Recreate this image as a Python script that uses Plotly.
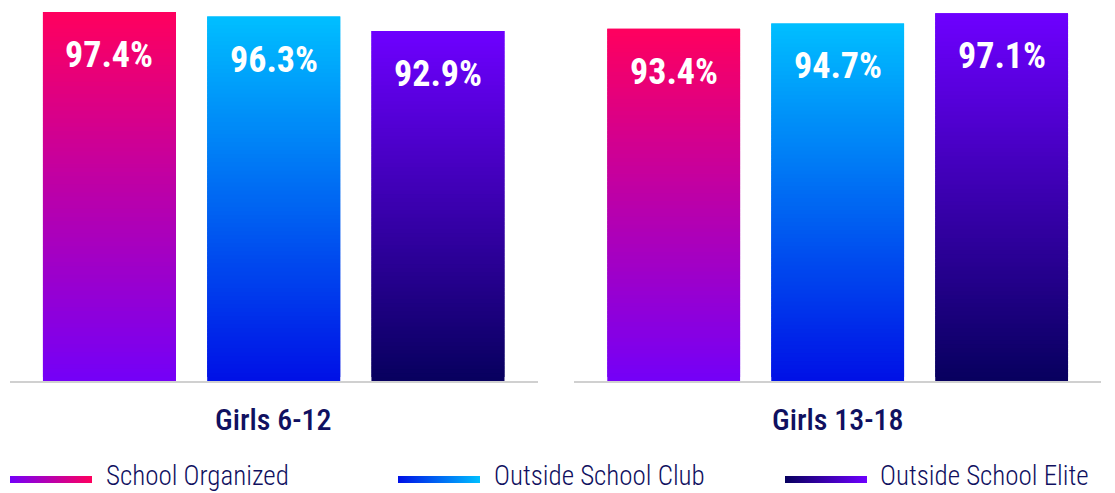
import base64
import plotly.graph_objects as go

# ---------------- data ----------------
groups = ["Girls 6-12", "Girls 13-18"]
series = ["School Organized", "Outside School Club", "Outside School Elite"]
values_girls_6_12 = [97.4, 96.3, 92.9]
values_girls_13_18 = [93.4, 94.7, 97.1]

# ---------------- style ----------------
top_colors = ["#FF005E", "#00BFFF", "#6E00FF"]
bottom_colors = ["#7400F8", "#0010E6", "#07005E"]
TEXT_NAVY = "#101060"
FONT = "'Roboto Condensed', 'Liberation Sans Narrow', 'DejaVu Sans Condensed', Roboto, sans-serif"
Y_MIN, Y_MAX = 10, 100
N_SEG = 90

W, H = 1115, 493
M_T, M_B = 1, 112
PLOT_H = H - M_T - M_B


def hex2rgb(h):
    h = h.lstrip("#")
    return tuple(int(h[i:i + 2], 16) for i in (0, 2, 4))


def lerp(c1, c2, t):
    a, b = hex2rgb(c1), hex2rgb(c2)
    return "rgb({},{},{})".format(*[round(a[k] + (b[k] - a[k]) * t) for k in range(3)])


def py(pixel_y):
    """pixel y (from top of page) -> paper y"""
    return (H - M_B - pixel_y) / PLOT_H


fig = go.Figure()

panels = [(values_girls_6_12, "x", "y"), (values_girls_13_18, "x2", "y2")]
for vals, xa, ya in panels:
    for si, name in enumerate(series):
        v = vals[si]
        step = (v - Y_MIN) / N_SEG
        bases = [Y_MIN + i * step for i in range(N_SEG)]
        heights = [min(2 * step, v - b) for b in bases]
        colors = [lerp(bottom_colors[si], top_colors[si], (i + 0.5) / N_SEG) for i in range(N_SEG)]
        fig.add_trace(go.Bar(
            x=[name] * N_SEG, y=heights, base=bases,
            width=0.81,
            marker=dict(color=colors, line=dict(width=0)),
            xaxis=xa, yaxis=ya, showlegend=False, hoverinfo="skip",
        ))
        # value label
        fig.add_annotation(
            x=name, y=v, xref=xa, yref=ya, text=f"{v:.1f}%",
            showarrow=False, yanchor="middle", yshift=-43,
            font=dict(family=FONT, size=36, color="white", weight="bold"),
        )

x_common = dict(type="category", categoryorder="array", categoryarray=series,
                range=[-0.608, 2.606], showticklabels=False, ticks="",
                showgrid=False, zeroline=False, showline=True,
                linecolor="#D0D0D0", linewidth=2, fixedrange=True)
y_common = dict(range=[Y_MIN, Y_MAX], visible=False, showgrid=False, fixedrange=True)

dom1 = [9.6 / W, 537.5 / W]
dom2 = [574 / W, 1101 / W]
fig.update_layout(
    xaxis=dict(domain=dom1, anchor="y", **x_common),
    xaxis2=dict(domain=dom2, anchor="y2", **x_common),
    yaxis=dict(anchor="x", **y_common),
    yaxis2=dict(anchor="x2", **y_common),
)

# group (category) labels
for g, dom in zip(groups, [dom1, dom2]):
    fig.add_annotation(
        x=(dom[0] + dom[1]) / 2, y=py(419), xref="paper", yref="paper",
        text=g, showarrow=False, xanchor="center", yanchor="middle",
        font=dict(family=FONT, size=30, color=TEXT_NAVY, weight=500),
    )

# custom legend with gradient line symbols
legend_sym_x = [10, 398, 785]
legend_txt_x = [104, 492, 878]
for si, name in enumerate(series):
    c1, c2 = bottom_colors[si], top_colors[si]
    svg = (
        '<svg xmlns="http://www.w3.org/2000/svg" width="82" height="7" preserveAspectRatio="none">'
        '<defs><linearGradient id="g" x1="0" x2="1" y1="0" y2="0">'
        f'<stop offset="0" stop-color="{c1}"/><stop offset="1" stop-color="{c2}"/>'
        '</linearGradient></defs><rect width="82" height="7" fill="url(#g)"/></svg>'
    )
    uri = "data:image/svg+xml;base64," + base64.b64encode(svg.encode()).decode()
    fig.add_layout_image(
        source=uri, xref="paper", yref="paper",
        x=legend_sym_x[si] / W, y=py(479.5), sizex=82 / W, sizey=7 / PLOT_H,
        xanchor="left", yanchor="middle", sizing="stretch", layer="above",
    )
    fig.add_annotation(
        x=legend_txt_x[si] / W, y=py(475.5), xref="paper", yref="paper",
        text=name, showarrow=False, xanchor="left", yanchor="middle",
        font=dict(family=FONT, size=27, color=TEXT_NAVY, weight=300),
    )

fig.update_layout(
    barmode="overlay",
    width=W, height=H,
    margin=dict(l=0, r=0, t=M_T, b=M_B, pad=0),
    paper_bgcolor="white", plot_bgcolor="white",
    showlegend=False,
    font=dict(family=FONT, color=TEXT_NAVY),
)

fig.write_html("out.html", config={"displayModeBar": False},
               post_script="document.body.style.margin='0';")
